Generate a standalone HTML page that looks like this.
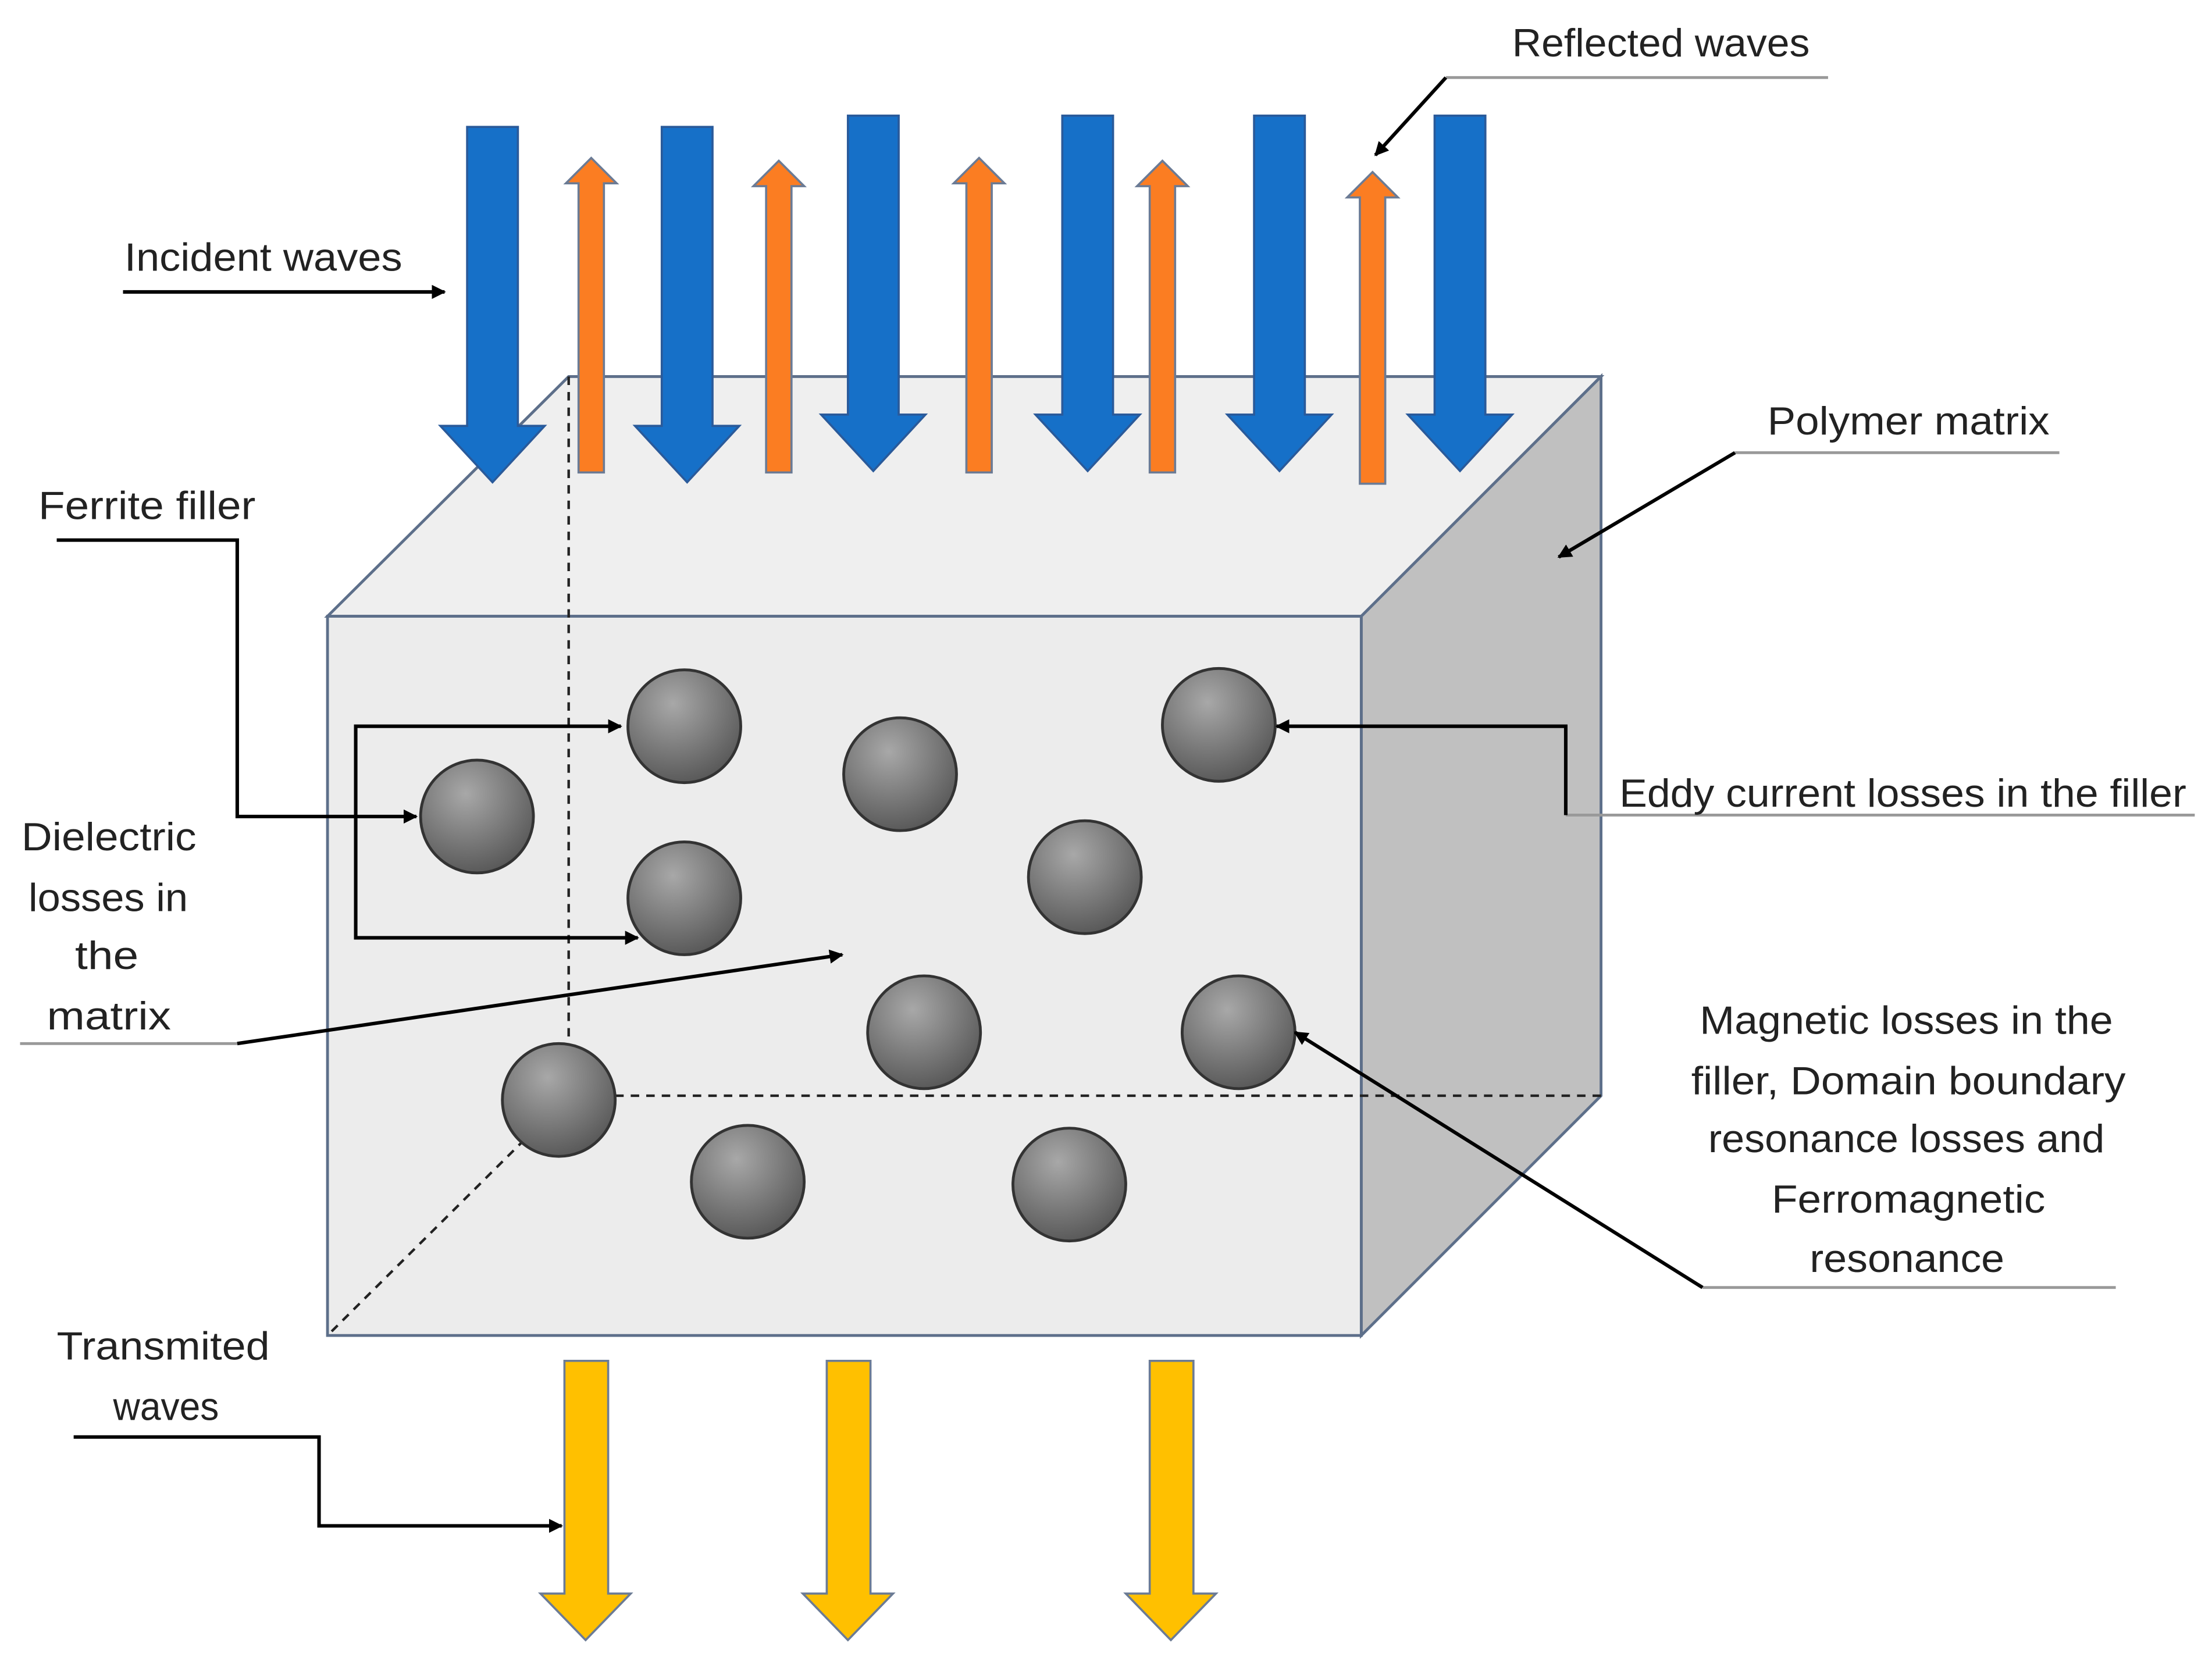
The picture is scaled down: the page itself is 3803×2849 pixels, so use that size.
<!DOCTYPE html>
<html><head><meta charset="utf-8"><style>
html,body{margin:0;padding:0;background:#fff;}
svg{display:block;}
text{font-family:"Liberation Sans",sans-serif;font-size:28px;fill:#222;}
</style></head><body>
<svg width="3803" height="2849" viewBox="0 0 1568 1175" xmlns="http://www.w3.org/2000/svg">
<defs>
<radialGradient id="g" cx="0.4" cy="0.3" r="0.75">
<stop offset="0" stop-color="#a8a8a8"/><stop offset="1" stop-color="#555"/>
</radialGradient>
<marker id="a" markerWidth="10" markerHeight="10" refX="9" refY="5" orient="auto" markerUnits="userSpaceOnUse" viewBox="0 0 10 10">
<path d="M0,0 L10,5 L0,10 z" fill="#000"/>
</marker>
</defs>
<rect width="1568" height="1175" fill="#fff"/>
<polygon points="232,437 403,267 1135,267 965,437" fill="#efefef" stroke="#5d6f8a" stroke-width="2"/>
<polygon points="965,437 1135,267 1135,777 965,947" fill="#c0c0c0" stroke="#5d6f8a" stroke-width="2"/>
<rect x="232" y="437" width="733" height="510" fill="#ececec" stroke="#5d6f8a" stroke-width="2"/>
<g stroke="#222" stroke-width="1.8" stroke-dasharray="6,5" fill="none">
<line x1="403" y1="267" x2="403" y2="777"/>
<line x1="403" y1="777" x2="1135" y2="777"/>
<line x1="403" y1="777" x2="232" y2="947"/>
</g>
<g fill="#1670c8" stroke="#2a5a9a" stroke-width="1.5">
<polygon points="331,90 367,90 367,302 386,302 349,342 312,302 331,302"/>
<polygon points="469,90 505,90 505,302 524,302 487,342 450,302 469,302"/>
<polygon points="601,82 637,82 637,294 656,294 619,334 582,294 601,294"/>
<polygon points="753,82 789,82 789,294 808,294 771,334 734,294 753,294"/>
<polygon points="889,82 925,82 925,294 944,294 907,334 870,294 889,294"/>
<polygon points="1017,82 1053,82 1053,294 1072,294 1035,334 998,294 1017,294"/>
</g>
<g fill="#fb7d22" stroke="#6b7b95" stroke-width="1.5">
<polygon points="410,335 428,335 428,130 437,130 419,112 401,130 410,130"/>
<polygon points="543,335 561,335 561,132 570,132 552,114 534,132 543,132"/>
<polygon points="685,335 703,335 703,130 712,130 694,112 676,130 685,130"/>
<polygon points="815,335 833,335 833,132 842,132 824,114 806,132 815,132"/>
<polygon points="964,343 982,343 982,140 991,140 973,122 955,140 964,140"/>
</g>
<g fill="#ffc000" stroke="#6b7b95" stroke-width="1.5">
<polygon points="400,965 431,965 431,1130 447,1130 415,1163 383,1130 400,1130"/>
<polygon points="586,965 617,965 617,1130 633,1130 601,1163 569,1130 586,1130"/>
<polygon points="815,965 846,965 846,1130 862,1130 830,1163 798,1130 815,1130"/>
</g>
<g fill="url(#g)" stroke="#333" stroke-width="2">
<circle cx="485" cy="515" r="40"/><circle cx="638" cy="549" r="40"/><circle cx="864" cy="514" r="40"/>
<circle cx="338" cy="579" r="40"/><circle cx="485" cy="637" r="40"/><circle cx="769" cy="622" r="40"/>
<circle cx="655" cy="732" r="40"/><circle cx="878" cy="732" r="40"/><circle cx="396" cy="780" r="40"/>
<circle cx="530" cy="838" r="40"/><circle cx="758" cy="840" r="40"/>
</g>
<g stroke="#999" stroke-width="2">
<line x1="1025" y1="55" x2="1296" y2="55"/>
<line x1="1230" y1="321" x2="1460" y2="321"/>
<line x1="14" y1="740" x2="168" y2="740"/>
<line x1="1110" y1="578" x2="1556" y2="578"/>
<line x1="1207" y1="913" x2="1500" y2="913"/>
</g>
<g stroke="#000" stroke-width="2.5" fill="none" marker-end="url(#a)">
<line x1="87" y1="207" x2="315" y2="207"/>
<line x1="1025" y1="55" x2="975" y2="110"/>
<line x1="1230" y1="321" x2="1105" y2="395"/>
<polyline points="40,383 168,383 168,579 295,579"/>
<polyline points="252,580 252,515 440,515"/>
<polyline points="252,580 252,665 452,665"/>
<line x1="168" y1="740" x2="597" y2="677"/>
<polyline points="1110,578 1110,515 905,515"/>
<line x1="1207" y1="913" x2="918" y2="732"/>
<polyline points="52,1019 226,1019 226,1082 398,1082"/>
</g>
<g lengthAdjust="spacingAndGlyphs">
<text x="88" y="192" textLength="197" lengthAdjust="spacingAndGlyphs">Incident waves</text>
<text x="1072" y="40" textLength="211" lengthAdjust="spacingAndGlyphs">Reflected waves</text>
<text x="1253" y="308" textLength="200" lengthAdjust="spacingAndGlyphs">Polymer matrix</text>
<text x="27" y="368" textLength="154" lengthAdjust="spacingAndGlyphs">Ferrite filler</text>
<text x="15" y="603" textLength="124" lengthAdjust="spacingAndGlyphs">Dielectric</text>
<text x="20" y="646" textLength="113" lengthAdjust="spacingAndGlyphs">losses in</text>
<text x="53" y="687" textLength="45" lengthAdjust="spacingAndGlyphs">the</text>
<text x="33" y="730" textLength="88" lengthAdjust="spacingAndGlyphs">matrix</text>
<text x="1148" y="572" textLength="402" lengthAdjust="spacingAndGlyphs">Eddy current losses in the filler</text>
<text x="1205" y="733" textLength="293" lengthAdjust="spacingAndGlyphs">Magnetic losses in the</text>
<text x="1199" y="776" textLength="308" lengthAdjust="spacingAndGlyphs">filler, Domain boundary</text>
<text x="1211" y="817" textLength="281" lengthAdjust="spacingAndGlyphs">resonance losses and</text>
<text x="1256" y="860" textLength="194" lengthAdjust="spacingAndGlyphs">Ferromagnetic</text>
<text x="1283" y="902" textLength="138" lengthAdjust="spacingAndGlyphs">resonance</text>
<text x="40" y="964" textLength="151" lengthAdjust="spacingAndGlyphs">Transmited</text>
<text x="80" y="1007" textLength="75" lengthAdjust="spacingAndGlyphs">waves</text>
</g>
</svg>
</body></html>
